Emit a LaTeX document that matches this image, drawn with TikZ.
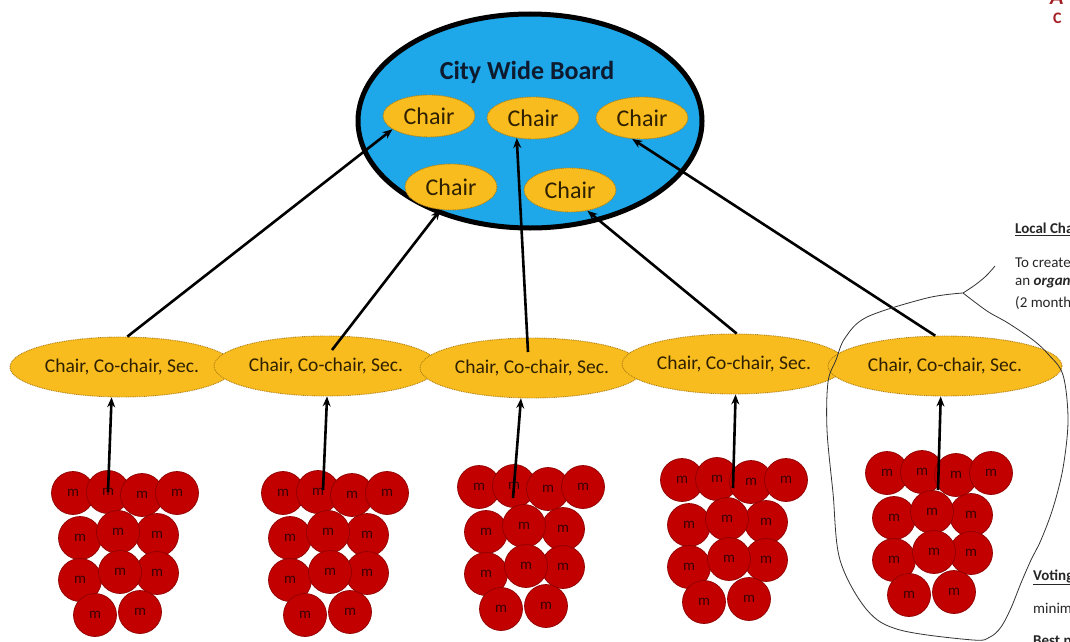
\documentclass[tikz,border=0pt]{standalone}
\usepackage{fontspec}
\setmainfont{Carlito}
\usetikzlibrary{arrows.meta,shapes.geometric}
\definecolor{boardblue}{HTML}{1EA8EA}
\definecolor{chairgold}{HTML}{F8BC1E}
\definecolor{golddot}{HTML}{B07E10}
\definecolor{mred}{HTML}{C20000}
\definecolor{mredline}{HTML}{8E0000}
\definecolor{mtext}{HTML}{3A0000}
\definecolor{inktext}{HTML}{2E2000}
\definecolor{titleink}{HTML}{0E1A2E}
\definecolor{logored}{HTML}{A31F24}
\begin{document}
\begin{tikzpicture}[x=1pt,y=-1pt,
  board/.style={ellipse, draw=black, line width=5pt, fill=boardblue,
    minimum width=344pt, minimum height=214pt, inner sep=0},
  chairnode/.style={ellipse, draw=golddot, fill=chairgold, line width=0.9pt,
    dash pattern=on 0.9pt off 0.9pt, minimum width=92pt, minimum height=42pt,
    inner sep=0, text=inktext, font=\fontsize{24}{24}\selectfont},
  localnode/.style={ellipse, draw=golddot, fill=chairgold, line width=0.9pt,
    dash pattern=on 0.9pt off 0.9pt, minimum width=224pt, minimum height=60pt,
    inner sep=0, text=inktext, font=\fontsize{19.5}{19.5}\selectfont},
  mnode/.style={circle, draw=mredline, fill=mred, line width=0.7pt,
    minimum size=43pt, inner sep=0, text=mtext, font=\fontsize{15}{15}\selectfont},
  arr/.style={draw=black, line width=2.6pt, -{Stealth[length=10pt,width=8pt]}},
  sidetext/.style={anchor=west, inner sep=0, text=black!85,
    font=\fontsize{15}{15}\selectfont},
  sidehead/.style={sidetext, font=\bfseries\fontsize{15}{15}\selectfont},
  outline/.style={draw=black!80, line width=0.8pt},
]
\fill[white] (0,0) rectangle (1070,642);
\useasboundingbox (0,0) rectangle (1070,642);

% City wide board
\node[board] (board) at (530,121) {};
\node[text=titleink, font=\bfseries\fontsize{26}{26}\selectfont] (title) at (527,72) {City Wide Board};
\node[chairnode] (C1) at (429,116) {Chair};
\node[chairnode] (C2) at (533,118) {Chair};
\node[chairnode] (C3) at (642,118) {Chair};
\node[chairnode, minimum height=46pt] (C4) at (451,187) {Chair};
\node[chairnode, minimum height=44pt] (C5) at (570,190) {Chair};

% local chairs
\node[localnode] (E1) at (122,367) {Chair, Co-chair, Sec.};
\node[localnode] (E2) at (326,366) {Chair, Co-chair, Sec.};
\node[localnode] (E3) at (532,368) {Chair, Co-chair, Sec.};
\node[localnode] (E4) at (734,364) {Chair, Co-chair, Sec.};
\node[localnode, minimum width=234pt] (E5) at (945,366) {Chair, Co-chair, Sec.};

% member clusters
\foreach \cx/\cy [count=\k] in {73/493, 283/493, 479/487, 682/480, 887/473} {
  \foreach \dx/\dy [count=\j] in {0/0, 35/-1, 69/2, 104/0, 7/45, 84/42, 45/39,
      7/87, 84/80, 47/79, 22/122, 67/119} {
    \node[mnode] (m\k-\j) at (\cx+\dx,\cy+\dy) {m};
  }
}

% arrows from members
\coordinate (s1) at (108,492);
\coordinate (s2) at (323,490);
\coordinate (s3) at (513,498);
\coordinate (s4) at (733,488);
\coordinate (s5) at (938,490);
\draw[arr] (s1) -- (E1.251);
\draw[arr] (s2) -- (E2.272);
\draw[arr] (s3) -- (E3.250);
\draw[arr] (s4) -- (E4.273);
\draw[arr] (s5) -- (E5.262);

% arrows to board chairs
\coordinate (u2) at (332,350);
\coordinate (u3) at (528,352);
\draw[arr] (E1.80) -- (C1.200);
\draw[arr] (u2) -- (C4.245);
\draw[arr] (u3) -- (C2.231);
\draw[arr] (E4.85) -- (C5.310);
\draw[arr] (E5.108) -- (C3.245);

% hand-drawn outline
\draw[outline] plot[smooth, tension=0.6] coordinates {(995,266) (986,276) (975,285) (963,293)};
\draw[outline] plot[smooth, tension=0.55] coordinates {(963,293) (927,298) (867,317) (845,338)
  (836,360) (828,382) (827,430) (833,493) (840,560) (867,610) (900,630) (973,640)
  (990,637) (1001,627) (1011,608) (1021,583) (1031,560) (1041,540) (1053,508)
  (1063,468) (1068,420) (1063,375) (1048,354) (1033,340) (1008,323) (987,311) (963,293)};

% side texts (cut by the right edge, as in the reference)
\node[sidehead] (t1) at (1015,229) {\underline{Local Cha}};
\node[sidetext] (t2) at (1015,263) {To create};
\node[sidetext] (t3) at (1015,283) {an \textbf{\textit{organ}}};
\node[sidetext] (t4) at (1015,303) {(2 month};
\node[sidehead] (t5) at (1033,577) {\underline{Voting}};
\node[sidetext] (t6) at (1033,608) {minim};
\node[sidehead] (t7) at (1033,642) {Best p};

% logo fragment
\node[anchor=base west, inner sep=0, text=logored, font=\bfseries\itshape\fontsize{22}{22}\selectfont] (logoA) at (1050,5) {A};
\node[anchor=west, inner sep=0, text=logored, font=\bfseries\fontsize{16}{16}\selectfont] (logoC) at (1053,18) {C};
\end{tikzpicture}
\end{document}
